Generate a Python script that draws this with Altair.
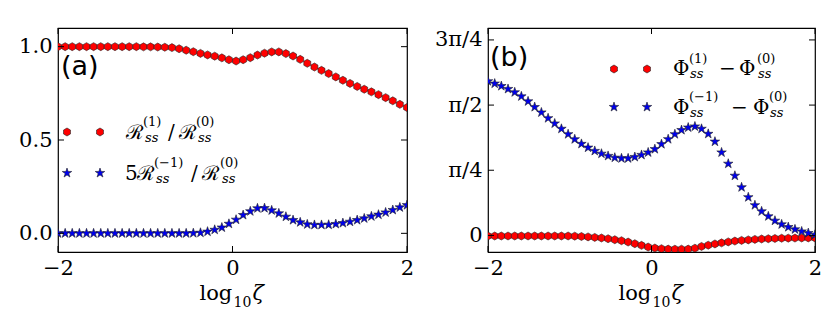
import math
import altair as alt
import pandas as pd

# ---------------- data ----------------
log_zeta = [-2.000, -1.918, -1.837, -1.755, -1.673, -1.592, -1.510, -1.429, -1.347, -1.265,
            -1.184, -1.102, -1.020, -0.939, -0.857, -0.776, -0.694, -0.612, -0.531, -0.449,
            -0.367, -0.286, -0.204, -0.122, -0.041, 0.041, 0.122, 0.204, 0.286, 0.367,
            0.449, 0.531, 0.612, 0.694, 0.776, 0.857, 0.939, 1.020, 1.102, 1.184,
            1.265, 1.347, 1.429, 1.510, 1.592, 1.673, 1.755, 1.837, 1.918, 2.000]

# panel (a): R^(1)/R^(0)
ratio_plus = [1.000, 1.000, 1.000, 1.000, 1.000, 1.000, 1.000, 1.000, 1.000, 1.000,
              1.000, 1.000, 0.999, 0.999, 0.998, 0.997, 0.995, 0.989, 0.981, 0.973,
              0.964, 0.956, 0.949, 0.940, 0.930, 0.923, 0.930, 0.941, 0.955, 0.965,
              0.972, 0.972, 0.963, 0.950, 0.932, 0.911, 0.891, 0.873, 0.856, 0.838,
              0.820, 0.803, 0.787, 0.772, 0.758, 0.743, 0.727, 0.710, 0.691, 0.674]
# panel (a): 5 R^(-1)/R^(0)
ratio_minus5 = [0.000, 0.000, 0.000, 0.000, 0.000, 0.000, 0.000, 0.000, 0.000, 0.000,
                0.000, 0.000, 0.000, 0.000, 0.000, 0.000, 0.000, 0.000, 0.000, 0.001,
                0.003, 0.009, 0.019, 0.031, 0.051, 0.073, 0.098, 0.118, 0.134, 0.135,
                0.123, 0.107, 0.089, 0.071, 0.059, 0.048, 0.045, 0.045, 0.046, 0.050,
                0.055, 0.062, 0.071, 0.080, 0.091, 0.100, 0.112, 0.125, 0.139, 0.151]
# panel (b): Phi^(1) - Phi^(0)
phase_plus = [-0.007, -0.007, -0.007, -0.007, -0.007, -0.007, -0.007, -0.007, -0.007, -0.007,
              -0.007, -0.007, -0.007, -0.009, -0.013, -0.018, -0.024, -0.031, -0.040, -0.052,
              -0.064, -0.080, -0.100, -0.120, -0.140, -0.152, -0.160, -0.165, -0.166, -0.166,
              -0.165, -0.154, -0.133, -0.118, -0.103, -0.090, -0.078, -0.068, -0.060, -0.054,
              -0.048, -0.043, -0.040, -0.037, -0.034, -0.033, -0.032, -0.031, -0.030, -0.030]
# panel (b): Phi^(-1) - Phi^(0)
phase_minus = [1.858, 1.830, 1.800, 1.765, 1.725, 1.676, 1.616, 1.547, 1.482, 1.413,
               1.349, 1.285, 1.220, 1.159, 1.103, 1.058, 1.018, 0.985, 0.958, 0.937,
               0.929, 0.929, 0.945, 0.970, 1.000, 1.040, 1.100, 1.160, 1.220, 1.270,
               1.300, 1.313, 1.285, 1.224, 1.130, 1.000, 0.864, 0.719, 0.580, 0.460,
               0.364, 0.290, 0.230, 0.177, 0.133, 0.100, 0.073, 0.048, 0.028, 0.007]

x_ticks = [-2, 0, 2]
a_y_ticks = [0.0, 0.5, 1.0]
b_y_ticks = [0.0, math.pi / 4, math.pi / 2, 3 * math.pi / 4]
b_y_labels = ["0", "π/4", "π/2", "3π/4"]

# ---------------- styling ----------------
SERIF = "DejaVu Serif"
SANS = "DejaVu Sans"
RED = "#ff0000"
BLUE = "#0000ee"
EDGE = "#202020"
HEX = "M0,-1L0.866,-0.5L0.866,0.5L0,1L-0.866,0.5L-0.866,-0.5Z"
_pts = []
for i in range(10):
    ang = math.radians(-90 + 36 * i)
    r = 1.0 if i % 2 == 0 else 0.382
    _pts.append(f"{r * math.cos(ang):.3f},{r * math.sin(ang):.3f}")
STAR = "M" + "L".join(_pts) + "Z"
HEX_SIZE = 64
STAR_SIZE = 100

WA, WB, H = 349, 327, 224
XDOM = [-2, 2]
A_YDOM = [-0.1, 1.1]
B_YDOM = [-0.2, 2.5]
TICK = 6
FS = 21

df = pd.DataFrame({"x": log_zeta, "rp": ratio_plus, "rm": ratio_minus5,
                   "pp": phase_plus, "pm": phase_minus})


def x_axis():
    return alt.Axis(values=x_ticks, title=None, ticks=False, tickSize=0, domain=False, grid=False,
                    labelPadding=5, labelFlush=False, labelOverlap=False,
                    labelFont=SERIF, labelFontSize=FS, labelColor="black",
                    labelExpr="datum.value < 0 ? '−' + format(-datum.value, 'd') : format(datum.value, 'd')")


def y_axis(values, labels=None):
    kw = {}
    if labels is None:
        kw["format"] = ".1f"
    else:
        expr = f"'{labels[-1]}'"
        for k in range(len(values) - 2, -1, -1):
            mid = (values[k] + values[k + 1]) / 2
            expr = f"datum.value < {mid:.4f} ? '{labels[k]}' : ({expr})"
        kw["labelExpr"] = expr
    return alt.Axis(values=values, title=None, ticks=False, tickSize=0, domain=False, grid=False,
                    labelPadding=6, labelOverlap=False,
                    labelFont=SERIF, labelFontSize=FS, labelColor="black", **kw)


def one():
    return alt.Data(values=[{}])


def txt(s, x, y, size, italic=False, font=SERIF):
    return alt.Chart(one()).mark_text(
        text=s, font=font, fontSize=size, fontStyle="italic" if italic else "normal",
        align="left", baseline="alphabetic", color="black"
    ).encode(x=alt.value(x), y=alt.value(y))


def marker(x, y, shape, color, size):
    return alt.Chart(one()).mark_point(
        shape=shape, filled=True, fill=color, stroke=EDGE, strokeWidth=0.6, size=size, opacity=1
    ).encode(x=alt.value(x), y=alt.value(y))


def panel(yfields, shapes, colors, sizes, ydom, yticks, ylabels, W):
    xs = alt.Scale(domain=XDOM, nice=False, zero=False)
    ys = alt.Scale(domain=ydom, nice=False, zero=False)
    xa = x_axis()
    ya = y_axis(yticks, ylabels)
    layers = []
    for f, sh, c, sz in zip(yfields, shapes, colors, sizes):
        layers.append(alt.Chart(df).mark_point(
            shape=sh, filled=True, fill=c, stroke=EDGE, strokeWidth=0.6, size=sz, opacity=1, clip=True
        ).encode(x=alt.X("x:Q", scale=xs, axis=xa), y=alt.Y(f"{f}:Q", scale=ys, axis=ya)))
    ytk = pd.DataFrame({"t": yticks})
    xtk = pd.DataFrame({"t": x_ticks})
    for x0, x1 in [(0, TICK), (W - TICK, W)]:
        layers.append(alt.Chart(ytk).mark_rule(color="black", strokeWidth=1).encode(
            y=alt.Y("t:Q", scale=ys, axis=ya), x=alt.value(x0), x2=alt.value(x1)))
    for y0, y1 in [(H - TICK, H), (0, TICK)]:
        layers.append(alt.Chart(xtk).mark_rule(color="black", strokeWidth=1).encode(
            x=alt.X("t:Q", scale=xs, axis=xa), y=alt.value(y0), y2=alt.value(y1)))
    return layers


def xtitle(W):
    c = W / 2
    return [txt("log", c - 33, 272, 21), txt("10", c + 1, 279, 14), txt("ζ", c + 20, 272, 21, italic=True)]


# ---------------- panel (a) ----------------
AX, AY = 55, 26
a_layers = panel(["rp", "rm"], [HEX, STAR], [RED, BLUE], [HEX_SIZE, STAR_SIZE],
                 A_YDOM, a_y_ticks, None, WA)
a_layers += [
    txt("(a)", 58 - AX, 73 - AY, 27, font=SANS),
    marker(64 - AX, 130 - AY, HEX, RED, HEX_SIZE), marker(97 - AX, 130 - AY, HEX, RED, HEX_SIZE),
    marker(64 - AX, 171 - AY, STAR, BLUE, STAR_SIZE), marker(97 - AX, 171 - AY, STAR, BLUE, STAR_SIZE),
    # R^(1)_ss / R^(0)_ss
    txt("ℛ", 123 - AX, 137 - AY, 20), txt("(1)", 140 - AX, 124 - AY, 13), txt("ss", 142 - AX, 140 - AY, 13, italic=True),
    txt("/", 165 - AX, 137 - AY, 20),
    txt("ℛ", 176 - AX, 137 - AY, 20), txt("(0)", 193 - AX, 124 - AY, 13), txt("ss", 195 - AX, 140 - AY, 13, italic=True),
    # 5 R^(-1)_ss / R^(0)_ss
    txt("5", 122 - AX, 178 - AY, 20),
    txt("ℛ", 134 - AX, 178 - AY, 20), txt("(−1)", 151 - AX, 165 - AY, 13), txt("ss", 153 - AX, 181 - AY, 13, italic=True),
    txt("/", 188 - AX, 178 - AY, 20),
    txt("ℛ", 199 - AX, 178 - AY, 20), txt("(0)", 217 - AX, 165 - AY, 13), txt("ss", 219 - AX, 181 - AY, 13, italic=True),
] + xtitle(WA)
left = alt.layer(*a_layers).properties(width=WA, height=H)

# ---------------- panel (b) ----------------
BX, BY = 487, 26
b_layers = panel(["pp", "pm"], [HEX, STAR], [RED, BLUE], [HEX_SIZE, STAR_SIZE],
                 B_YDOM, b_y_ticks, b_y_labels, WB)
b_layers += [
    txt("(b)", 489 - BX, 64 - BY, 27, font=SANS),
    marker(613 - BX, 67 - BY, HEX, RED, HEX_SIZE), marker(646 - BX, 67 - BY, HEX, RED, HEX_SIZE),
    marker(613 - BX, 105 - BY, STAR, BLUE, STAR_SIZE), marker(646 - BX, 105 - BY, STAR, BLUE, STAR_SIZE),
    # Phi^(1)_ss - Phi^(0)_ss
    txt("Φ", 672 - BX, 73 - BY, 20), txt("(1)", 688 - BX, 61 - BY, 13), txt("ss", 689 - BX, 76 - BY, 13, italic=True),
    txt("−", 718 - BX, 73 - BY, 20),
    txt("Φ", 738 - BX, 73 - BY, 20), txt("(0)", 756 - BX, 61 - BY, 13), txt("ss", 757 - BX, 76 - BY, 13, italic=True),
    # Phi^(-1)_ss - Phi^(0)_ss
    txt("Φ", 672 - BX, 112 - BY, 20), txt("(−1)", 688 - BX, 99 - BY, 13), txt("ss", 689 - BX, 115 - BY, 13, italic=True),
    txt("−", 730 - BX, 112 - BY, 20),
    txt("Φ", 752 - BX, 112 - BY, 20), txt("(0)", 768 - BX, 99 - BY, 13), txt("ss", 769 - BX, 115 - BY, 13, italic=True),
] + xtitle(WB)
right = alt.layer(*b_layers).properties(width=WB, height=H)

chart = alt.hconcat(left, right, spacing=18).properties(
    padding={"left": 10, "top": 18, "right": 0, "bottom": 0},
    background="white",
).configure_view(stroke="black", strokeWidth=1.2)

chart.save("out.html", embed_options={"renderer": "svg", "actions": False})
